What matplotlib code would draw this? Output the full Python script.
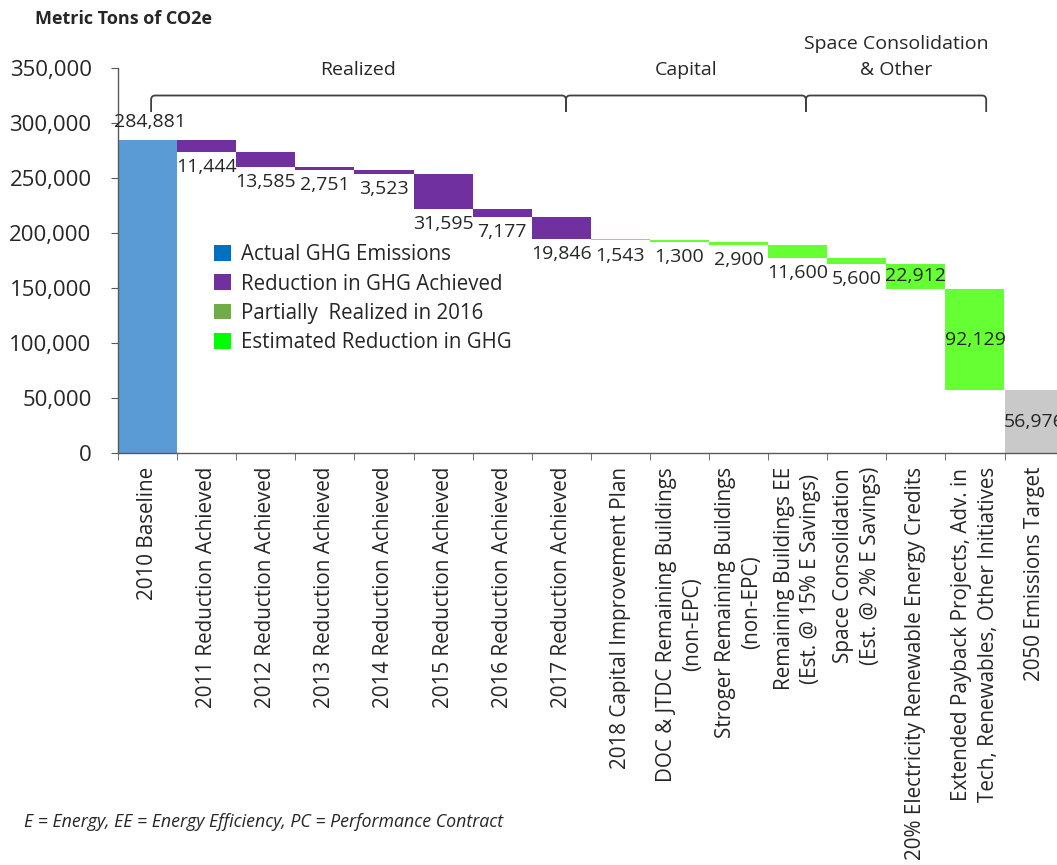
import matplotlib
matplotlib.use("Agg")
import matplotlib.pyplot as plt
import numpy as np
from matplotlib.patches import Patch, PathPatch
from matplotlib.path import Path
from matplotlib.ticker import FuncFormatter

plt.rcParams["font.family"] = ["Open Sans", "DejaVu Sans"]

# ── Data ─────────────────────────────────────────────────────────────────────
categories = [
    "2010 Baseline",
    "2011 Reduction Achieved",
    "2012 Reduction Achieved",
    "2013 Reduction Achieved",
    "2014 Reduction Achieved",
    "2015 Reduction Achieved",
    "2016 Reduction Achieved",
    "2017 Reduction Achieved",
    "2018 Capital Improvement Plan",
    "DOC & JTDC Remaining Buildings\n(non-EPC)",
    "Stroger Remaining Buildings\n(non-EPC)",
    "Remaining Buildings EE\n(Est. @ 15% E Savings)",
    "Space Consolidation\n(Est. @ 2% E Savings)",
    "20% Electricity Renewable Energy Credits",
    "Extended Payback Projects, Adv. in\nTech, Renewables, Other Initiatives",
    "2050 Emissions Target",
]
values = [284881, 11444, 13585, 2751, 3523, 31595, 7177, 19846,
          1543, 1300, 2900, 11600, 5600, 22912, 92129, 56976]
kinds = ["total"] + ["achieved"] * 7 + ["estimated"] * 7 + ["target"]

legend_labels = [
    "Actual GHG Emissions",
    "Reduction in GHG Achieved",
    "Partially  Realized in 2016",
    "Estimated Reduction in GHG",
]

group_names = ["Realized", "Capital", "Space Consolidation\n& Other"]
group_edges = [0.06, 7.08, 11.14, 14.19]

footnote = "E = Energy, EE = Energy Efficiency, PC = Performance Contract"

# ── Styling ──────────────────────────────────────────────────────────────────
bar_colors = {
    "total": "#5B9BD5",
    "achieved": "#7030A0",
    "estimated": "#66FF33",
    "target": "#C9C9C9",
}
legend_colors = ["#0070C0", "#7030A0", "#70AD47", "#00FF00"]
text_color = "#262626"

W, H = 1057, 865
fig = plt.figure(figsize=(W / 100, H / 100), dpi=100)
ax = fig.add_axes([118 / W, 1 - 453 / H, 16 * 59.1 / W, 385 / H])

# waterfall bottoms
x = np.arange(len(values))
bottoms = []
level = 0
for v, k in zip(values, kinds):
    if k in ("total", "target"):
        bottoms.append(0)
        level = v
    else:
        level -= v
        bottoms.append(level)

colors = [bar_colors[k] for k in kinds]
ax.bar(x, values, bottom=bottoms, width=1.0, color=colors, linewidth=0, zorder=2)

# value labels
for xi, v, b, k in zip(x, values, bottoms, kinds):
    txt = f"{v:,}"
    if k == "total":
        ax.annotate(txt, (xi, b + v), xytext=(2, 13), textcoords="offset points",
                    ha="center", va="center", fontsize=14, color=text_color)
    elif k == "target" or (k == "estimated" and v > 20000):
        ax.annotate(txt, (xi, b + v / 2), ha="center", va="center",
                    fontsize=14, color=text_color, annotation_clip=False)
    else:
        ax.annotate(txt, (xi, b), xytext=(0, -11), textcoords="offset points",
                    ha="center", va="center", fontsize=14, color=text_color)

# axes
ax.set_xlim(-0.5, len(values) - 0.5)
ax.set_ylim(0, 350000)
ax.set_yticks(np.arange(0, 350001, 50000))
ax.yaxis.set_major_formatter(FuncFormatter(lambda v, p: f"{int(v):,}"))
ax.tick_params(axis="y", length=5, pad=14, labelsize=16, colors="#595959",
               labelcolor=text_color)
ax.set_xticks(x)
ax.set_xticklabels(categories, rotation=90, ha="center", va="top",
                   multialignment="center", fontsize=14.9, color=text_color,
                   linespacing=1.35)
ax.set_xticks(np.arange(-0.5, len(values), 1.0), minor=True)
ax.tick_params(axis="x", which="major", length=0, pad=10)
ax.tick_params(axis="x", which="minor", length=5, color="#595959")
for side in ("top", "right"):
    ax.spines[side].set_visible(False)
for side in ("left", "bottom"):
    ax.spines[side].set_color("#595959")
    ax.spines[side].set_linewidth(1.0)

# group brackets
y_top, y_low = 325000, 310000
rx, ry = 0.07, 4000
for name, x0, x1 in zip(group_names, group_edges[:-1], group_edges[1:]):
    verts = [(x0, y_low), (x0, y_top - ry), (x0, y_top), (x0 + rx, y_top),
             (x1 - rx, y_top), (x1, y_top), (x1, y_top - ry), (x1, y_low)]
    codes = [Path.MOVETO, Path.LINETO, Path.CURVE3, Path.CURVE3,
             Path.LINETO, Path.CURVE3, Path.CURVE3, Path.LINETO]
    ax.add_patch(PathPatch(Path(verts, codes), fill=False, edgecolor="#404040",
                           linewidth=1.3, clip_on=False, zorder=3))
    ax.text((x0 + x1) / 2, 340000, name, ha="center", va="bottom", fontsize=14,
            color=text_color, linespacing=1.55, clip_on=False)

# legend
handles = [Patch(facecolor=c, edgecolor="none") for c in legend_colors]
ax.legend(handles, legend_labels, loc="upper left",
          bbox_to_anchor=(204 / W, 1 - 234 / H), bbox_transform=fig.transFigure,
          frameon=False, fontsize=14.8, handlelength=0.8, handleheight=0.8,
          handletextpad=0.5, labelspacing=0.4, borderpad=0, labelcolor=text_color)

fig.text(35 / W, 1 - 19 / H, "Metric Tons of CO2e", fontsize=13, fontweight="bold",
         ha="left", va="center", color=text_color)
fig.text(24 / W, 1 - 822 / H, footnote, fontsize=12.8, style="italic",
         ha="left", va="center", color=text_color)

fig.savefig("out.png", dpi=100)
